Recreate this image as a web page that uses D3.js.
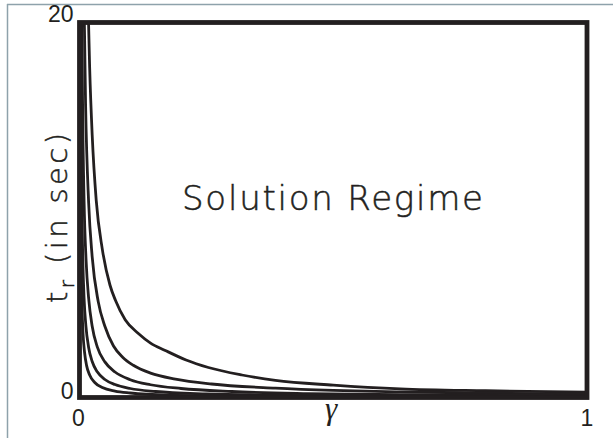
<!DOCTYPE html>
<html>
<head>
<meta charset="utf-8">
<script src="https://cdn.jsdelivr.net/npm/d3@7/dist/d3.min.js"></script>
<style>
  html, body { margin: 0; padding: 0; background: #fff; }
  svg { display: block; }
</style>
</head>
<body>
<svg id="chart" width="613" height="438"></svg>
<script>
// Rise-time curves t_r(γ), one per family member (outermost first)
const gammaA = [0.016, 0.02, 0.025, 0.033, 0.045, 0.06, 0.071, 0.09, 0.116, 0.14, 0.169, 0.21, 0.254, 0.32, 0.386, 0.5, 0.632, 0.8, 1.0];
const tA     = [22, 17.6, 14.0, 10.5, 7.9, 6.0, 5.17, 4.15, 3.41, 2.9, 2.51, 2.0, 1.6, 1.2, 0.91, 0.66, 0.46, 0.36, 0.29];

const gammaB = [0.0085, 0.012, 0.018, 0.025, 0.037, 0.05, 0.067, 0.085, 0.106, 0.14, 0.189, 0.26, 0.386, 0.5, 0.632, 0.8, 1.0];
const tB     = [22, 15.6, 10.4, 7.5, 5.1, 3.8, 2.75, 2.15, 1.72, 1.3, 0.98, 0.72, 0.5, 0.38, 0.3, 0.24, 0.18];

const gammaC = [0.0045, 0.006, 0.009, 0.013, 0.018, 0.025, 0.035, 0.05, 0.07, 0.1, 0.14, 0.2, 0.3, 0.45, 0.65, 1.0];
const tC     = [21, 15.8, 10.5, 7.3, 5.3, 3.8, 2.7, 1.9, 1.36, 0.95, 0.68, 0.48, 0.32, 0.21, 0.15, 0.1];

const gammaD = [0.0023, 0.003, 0.0045, 0.0065, 0.009, 0.0125, 0.018, 0.025, 0.035, 0.05, 0.07, 0.1, 0.15, 0.25, 0.4, 0.65, 1.0];
const tD     = [21, 16, 10.7, 7.4, 5.3, 3.85, 2.67, 1.92, 1.37, 0.96, 0.69, 0.48, 0.32, 0.19, 0.12, 0.074, 0.048];

const gammaE = [0.0012, 0.0018, 0.0025, 0.0035, 0.005, 0.007, 0.01, 0.014, 0.02, 0.03, 0.045, 0.07, 0.1, 0.18, 0.35, 0.6, 1.0];
const tE     = [20.5, 13.3, 9.6, 6.9, 4.8, 3.4, 2.4, 1.7, 1.2, 0.8, 0.53, 0.34, 0.24, 0.13, 0.07, 0.04, 0.024];

const xTicks = [0, 1];
const yTicks = [0, 20];
const regionLabel = "Solution Regime";

const curves = [
  [gammaA, tA], [gammaB, tB], [gammaC, tC], [gammaD, tD], [gammaE, tE]
];

const ink = "#231f20";
const svg = d3.select("#chart");

// thin outer rule along top and left
svg.append("line").attr("x1", 7).attr("x2", 613).attr("y1", 4.5).attr("y2", 4.5)
  .attr("stroke", "#8ea2ab").attr("stroke-width", 1.5);
svg.append("line").attr("x1", 7.5).attr("x2", 7.5).attr("y1", 4).attr("y2", 438)
  .attr("stroke", "#8ea2ab").attr("stroke-width", 1.5);

const plotLeft = 79.5, plotRight = 587, plotTop = 22.5, plotBottom = 397.5;
const x = d3.scaleLinear().domain([0, 1]).range([plotLeft, plotRight]);
const y = d3.scaleLinear().domain([0, 20]).range([plotBottom, plotTop]);

svg.append("clipPath").attr("id", "plot-clip")
  .append("rect").attr("x", plotLeft).attr("y", plotTop)
  .attr("width", plotRight - plotLeft).attr("height", plotBottom - plotTop);

const line = d3.line()
  .x(d => x(d[0]))
  .y(d => y(d[1]))
  .curve(d3.curveMonotoneX);

svg.append("g").attr("clip-path", "url(#plot-clip)")
  .selectAll("path")
  .data(curves)
  .join("path")
  .attr("d", ([g, t]) => line(g.map((v, i) => [v, t[i]])))
  .attr("fill", "none")
  .attr("stroke", ink)
  .attr("stroke-width", 2.8);

// frame
svg.append("rect")
  .attr("x", plotLeft).attr("y", plotTop)
  .attr("width", plotRight - plotLeft).attr("height", plotBottom - plotTop)
  .attr("fill", "none").attr("stroke", ink).attr("stroke-width", 4.8);

// tick labels
const tickFont = "Liberation Sans, Arial, sans-serif";
svg.append("g").selectAll("text").data(yTicks).join("text")
  .attr("x", plotLeft - 6)
  .attr("y", d => y(d) + (d === 0 ? 1 : -1))
  .attr("text-anchor", "end")
  .attr("font-family", tickFont)
  .attr("font-size", 23)
  .attr("fill", ink)
  .text(d => d);

svg.append("g").selectAll("text").data(xTicks).join("text")
  .attr("x", d => x(d) + (d === 0 ? -1 : 0))
  .attr("y", 426)
  .attr("text-anchor", "middle")
  .attr("font-family", tickFont)
  .attr("font-size", 23)
  .attr("fill", ink)
  .text(d => d);

// axis titles
svg.append("text")
  .attr("x", 331).attr("y", 419)
  .attr("text-anchor", "middle")
  .attr("font-family", "Liberation Serif, serif")
  .attr("font-style", "italic")
  .attr("font-size", 31)
  .attr("fill", ink)
  .text("γ");

const labelFont = "DejaVu Sans, sans-serif";
const yTitle = svg.append("text")
  .attr("transform", "translate(67,303) rotate(-90)")
  .attr("font-family", labelFont)
  .attr("font-weight", 200)
  .attr("font-size", 29)
  .attr("textLength", 170)
  .attr("lengthAdjust", "spacing")
  .attr("fill", ink)
  .attr("stroke", ink)
  .attr("stroke-width", 0.5);
yTitle.append("tspan").text("t");
yTitle.append("tspan").attr("font-size", 20).attr("dy", 7).text("r");
yTitle.append("tspan").attr("dy", -7).text(" (in sec)");

svg.append("text")
  .attr("x", 182).attr("y", 210)
  .attr("font-family", labelFont)
  .attr("font-weight", 200)
  .attr("font-size", 34)
  .attr("textLength", 301)
  .attr("lengthAdjust", "spacing")
  .attr("fill", ink)
  .attr("stroke", ink)
  .attr("stroke-width", 0.5)
  .text(regionLabel);
</script>
</body>
</html>
